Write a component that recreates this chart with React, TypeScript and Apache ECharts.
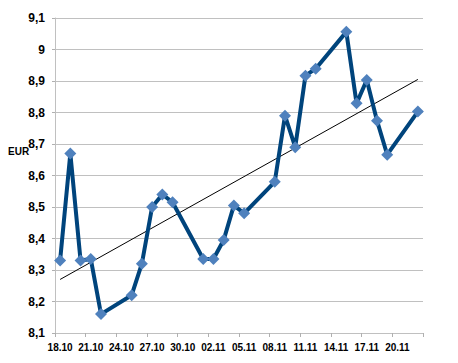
import React, { useEffect, useRef } from "react";
import * as echarts from "echarts";

const categories = [
  "18.10", "19.10", "20.10", "21.10", "22.10", "23.10", "24.10", "25.10", "26.10",
  "27.10", "28.10", "29.10", "30.10", "31.10", "01.11", "02.11", "03.11", "04.11",
  "05.11", "06.11", "07.11", "08.11", "09.11", "10.11", "11.11", "12.11", "13.11",
  "14.11", "15.11", "16.11", "17.11", "18.11", "19.11", "20.11", "21.11", "22.11",
];

const rates: (number | null)[] = [
  8.33, 8.67, 8.33, 8.335, 8.16, null, null, 8.22, 8.32,
  8.5, 8.54, 8.515, null, null, 8.335, 8.335, 8.395, 8.505,
  8.48, null, null, 8.58, 8.79, 8.69, 8.917, 8.939, null,
  null, 9.056, 8.829, 8.903, 8.774, 8.666, null, null, 8.803,
];

const trend: (number | null)[] = categories.map((_, i) =>
  i === 0 ? 8.27 : i === categories.length - 1 ? 8.905 : null
);

const yTicks = { min: 8.1, max: 9.1, interval: 0.1 };

export default function App() {
  const ref = useRef<HTMLDivElement>(null);
  useEffect(() => {
    if (!ref.current) return;
    const chart = echarts.init(ref.current, undefined, { renderer: "svg" });
    chart.setOption({
      animation: false,
      backgroundColor: "#ffffff",
      grid: { left: 55, right: 35, top: 18, bottom: 30 },
      graphic: [
        {
          type: "text",
          left: 8,
          top: 146,
          style: {
            text: "EUR",
            font: "bold 10px Arial, 'Liberation Sans', sans-serif",
            fill: "#000",
          },
        },
      ],
      xAxis: {
        type: "category",
        data: categories,
        boundaryGap: true,
        axisLine: { lineStyle: { color: "#c0c0c0", width: 1 } },
        axisTick: {
          show: true,
          interval: 2,
          length: 4,
          lineStyle: { color: "#b0b0b0", width: 1 },
        },
        axisLabel: {
          interval: 2,
          color: "#000",
          fontSize: 10,
          fontWeight: "bold",
          fontFamily: "Arial, 'Liberation Sans', sans-serif",
          margin: 9,
        },
        splitLine: { show: false },
      },
      yAxis: {
        type: "value",
        min: yTicks.min,
        max: yTicks.max,
        interval: yTicks.interval,
        axisLine: { show: true, lineStyle: { color: "#c0c0c0", width: 1 } },
        axisTick: { show: true, length: 3, lineStyle: { color: "#b0b0b0" } },
        axisLabel: {
          color: "#000",
          fontSize: 12,
          fontWeight: "bold",
          fontFamily: "Arial, 'Liberation Sans', sans-serif",
          margin: 10,
          formatter: (v: number) => {
            const s = (Math.round(v * 10) / 10).toString();
            return s.replace(".", ",");
          },
        },
        splitLine: { show: true, lineStyle: { color: "#c0c0c0", width: 1 } },
      },
      series: [
        {
          type: "line",
          data: trend,
          connectNulls: true,
          symbol: "none",
          lineStyle: { color: "#000", width: 1 },
          z: 1,
        },
        {
          type: "line",
          data: rates,
          connectNulls: true,
          symbol: "diamond",
          symbolSize: 12,
          showAllSymbol: true,
          itemStyle: { color: "#4f81bd" },
          lineStyle: { color: "#00447c", width: 4 },
          z: 2,
        },
      ],
    });
    return () => chart.dispose();
  }, []);
  return (
    <div
      ref={ref}
      style={{ position: "fixed", left: 0, top: 0, width: 458, height: 363 }}
    />
  );
}
